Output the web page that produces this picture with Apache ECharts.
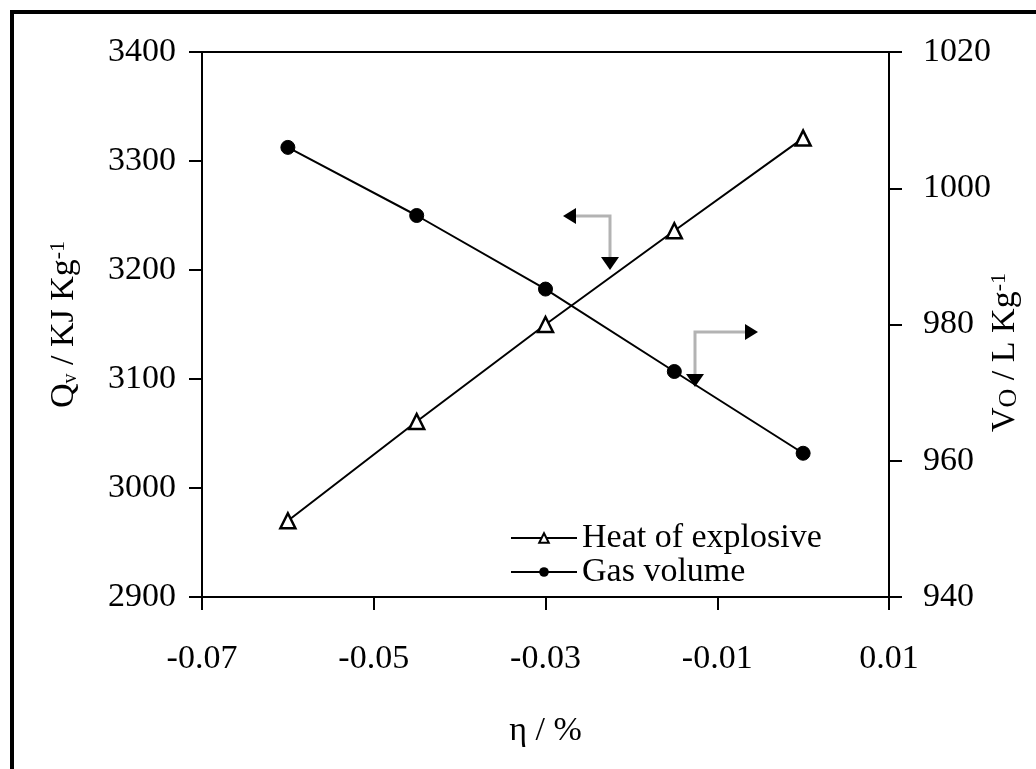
<!DOCTYPE html>
<html>
<head>
<meta charset="utf-8">
<script src="https://cdn.jsdelivr.net/npm/echarts@6/dist/echarts.min.js"></script>
<style>
  html, body { margin: 0; padding: 0; background: #fff; }
  #main { width: 1036px; height: 769px; }
</style>
</head>
<body>
<div id="main"></div>
<script>
// 数据
var etaValues = [-0.06, -0.045, -0.03, -0.015, 0];
var heatValues = [2970, 3061, 3150, 3236, 3321];   // Qv, kJ/kg (左轴)
var gasValues = [1006, 996, 985.2, 973.1, 961.1];  // Vo, L/kg (右轴)

(function () {
  var myChart = echarts.init(document.getElementById('main'));
  var font = 'Liberation Serif';

  function pairs(ys) {
    return etaValues.map(function (x, i) { return [x, ys[i]]; });
  }
  function plain(v) { return String(v); }

  // 注释箭头 (灰线 + 黑色箭头)
  var lineStyle = { stroke: '#b3b3b3', lineWidth: 3, fill: null };
  var graphic = [
    { type: 'rect', silent: true, shape: { x: 12, y: 12, width: 1060, height: 800 },
      style: { fill: null, stroke: '#000', lineWidth: 4 } },
    { type: 'polyline', shape: { points: [[574, 216], [610, 216], [610, 258]] }, style: lineStyle },
    { type: 'polygon', shape: { points: [[563, 216], [576, 208], [576, 224]] }, style: { fill: '#000' } },
    { type: 'polygon', shape: { points: [[610, 270], [601, 257], [619, 257]] }, style: { fill: '#000' } },
    { type: 'polyline', shape: { points: [[747, 332], [695, 332], [695, 375]] }, style: lineStyle },
    { type: 'polygon', shape: { points: [[758, 332], [745, 324], [745, 340]] }, style: { fill: '#000' } },
    { type: 'polygon', shape: { points: [[695, 387], [686, 374], [704, 374]] }, style: { fill: '#000' } }
  ];

  var rich = {
    n: { fontFamily: font, fontSize: 34, color: '#000' },
    s: { fontFamily: font, fontSize: 20, color: '#000', verticalAlign: 'bottom' },
    o: { fontFamily: font, fontSize: 26, color: '#000', verticalAlign: 'bottom' },
    p: { fontFamily: font, fontSize: 22, color: '#000', verticalAlign: 'top' }
  };

  var option = {
    animation: false,
    backgroundColor: '#fff',
    grid: {
      left: 202, right: 147, top: 52, bottom: 172,
      outerBoundsMode: 'none',
      show: true, borderColor: '#000', borderWidth: 2
    },
    legend: {
      orient: 'vertical',
      left: 505,
      top: 516,
      itemWidth: 66,
      itemHeight: 12,
      itemGap: 0,
      textStyle: { fontFamily: font, fontSize: 34, color: '#000', lineHeight: 34 },
      data: ['Heat of explosive', 'Gas volume']
    },
    xAxis: {
      type: 'value',
      min: -0.07,
      max: 0.01,
      interval: 0.02,
      name: 'η / %',
      nameLocation: 'middle',
      nameGap: 117,
      nameTextStyle: { fontFamily: font, fontSize: 34, color: '#000' },
      axisLine: { onZero: false, lineStyle: { color: '#000', width: 2 } },
      axisTick: { inside: false, length: 13, lineStyle: { color: '#000', width: 2 } },
      axisLabel: {
        margin: 45, fontFamily: font, fontSize: 34, color: '#000',
        formatter: function (v) { return v.toFixed(2); }
      },
      splitLine: { show: false }
    },
    yAxis: [
      {
        type: 'value',
        position: 'left',
        min: 2900,
        max: 3400,
        interval: 100,
        name: '{n|Q}{s|v}{n| / KJ Kg}{p|-1}',
        nameLocation: 'middle',
        nameGap: 121,
        nameMoveOverlap: false,
        nameTextStyle: { rich: rich },
        axisLine: { show: true, onZero: false, lineStyle: { color: '#000', width: 2 } },
        axisTick: { show: true, inside: false, length: 13, lineStyle: { color: '#000', width: 2 } },
        axisLabel: { margin: 26, fontFamily: font, fontSize: 34, color: '#000', formatter: plain },
        splitLine: { show: false }
      },
      {
        type: 'value',
        position: 'right',
        offset: 0,
        min: 940,
        max: 1020,
        interval: 20,
        name: '{n|V}{o|O}{n| / L Kg}{p|-1}',
        nameLocation: 'middle',
        nameGap: 99,
        nameMoveOverlap: false,
        nameTextStyle: { rich: rich, padding: [0, 56, 0, 0] },
        axisLine: { show: true, onZero: false, lineStyle: { color: '#000', width: 2 } },
        axisTick: { show: true, inside: false, length: 13, lineStyle: { color: '#000', width: 2 } },
        axisLabel: { margin: 34, fontFamily: font, fontSize: 34, color: '#000', formatter: plain },
        splitLine: { show: false }
      }
    ],
    series: [
      {
        name: 'Heat of explosive',
        type: 'line',
        yAxisIndex: 0,
        data: pairs(heatValues),
        symbol: 'triangle',
        symbolSize: 15,
        lineStyle: { color: '#000', width: 2 },
        itemStyle: { color: '#fff', borderColor: '#000', borderWidth: 2.5 }
      },
      {
        name: 'Gas volume',
        type: 'line',
        yAxisIndex: 1,
        data: pairs(gasValues),
        symbol: 'circle',
        symbolSize: 14,
        lineStyle: { color: '#000', width: 2 },
        itemStyle: { color: '#000', borderColor: '#000' }
      }
    ],
    graphic: graphic
  };

  myChart.setOption(option);
  window.addEventListener('resize', function () {
    myChart.resize();
  });
})();
</script>
</body>
</html>
